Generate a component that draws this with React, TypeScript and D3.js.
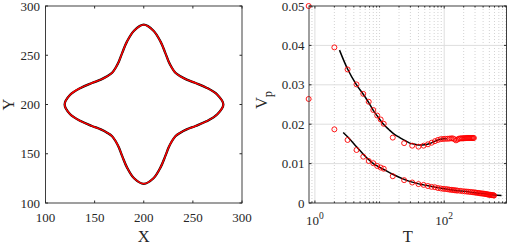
import React, {useEffect, useRef} from 'react'
import * as d3 from 'd3'

const width = 507
const height = 245

// left panel: traced boundary, counter-clockwise from the right tip
const shapeX = [
  281, 274.9, 263.8, 252.7, 243.7, 237.3, 232.2, 228.6, 225.3, 221.8, 217.1, 209.9,
  200, 190.1, 182.9, 178.2, 174.7, 171.4, 167.8, 162.7, 156.3, 147.3, 136.2, 125.1,
  119.5, 125.1, 136.2, 147.3, 156.3, 162.7, 167.8, 171.4, 174.7, 178.2, 182.9, 190.1,
  200, 209.9, 217.1, 221.8, 225.3, 228.6, 232.2, 237.3, 243.7, 252.7, 263.8, 274.9,
]
const shapeY = [
  200, 209.9, 217.1, 221.8, 225.3, 228.6, 232.2, 237.3, 243.7, 252.7, 263.8, 274.9,
  281, 274.9, 263.8, 252.7, 243.7, 237.3, 232.2, 228.6, 225.3, 221.8, 217.1, 209.9,
  200, 190.1, 182.9, 178.2, 174.7, 171.4, 167.8, 162.7, 156.3, 147.3, 136.2, 125.1,
  119.5, 125.1, 136.2, 147.3, 156.3, 162.7, 167.8, 171.4, 174.7, 178.2, 182.9, 190.1,
]
const xyTicks = [100, 150, 200, 250, 300]

// right panel: measured points (red circles)
const tUpper = [
  0.8, 2, 3.2, 4.4, 5.6, 6.8, 8, 9.2, 10.4, 11.6, 16, 24, 32, 40, 48, 56, 64, 72, 80, 88,
  96, 104, 112, 120, 128, 136, 144, 152, 160, 168, 176, 184, 192, 200, 208, 216, 224, 232,
  240, 248, 256, 264, 272, 280, 288,
]
const vUpper = [
  0.05, 0.0395, 0.0339, 0.0301, 0.0277, 0.0257, 0.0236, 0.0222, 0.0212, 0.0201, 0.0166,
  0.0152, 0.01455, 0.0143, 0.01455, 0.0149, 0.0153, 0.0157, 0.016, 0.0162, 0.01625, 0.0163,
  0.0163, 0.01635, 0.0164, 0.0164, 0.0162, 0.0159, 0.0161, 0.0163, 0.0164, 0.0164, 0.0164,
  0.01645, 0.01645, 0.01645, 0.0165, 0.0165, 0.0165, 0.0165, 0.0165, 0.0165, 0.0165, 0.0165,
  0.0165,
]
const tLower = [
  0.8, 2, 3.2, 4.4, 5.6, 6.8, 8, 9.2, 10.4, 11.6, 16, 24, 32, 40, 48, 56, 64, 72, 80, 88,
  96, 104, 112, 120, 128, 136, 144, 152, 160, 176, 192, 208, 224, 240, 256, 272, 288, 304,
  320, 336, 352, 368, 384, 400, 416, 432, 448, 464, 480, 496, 512, 528, 544, 560, 576, 592,
]
const vLower = [
  0.0264, 0.0187, 0.016, 0.01345, 0.01175, 0.01066, 0.0101, 0.0094, 0.009, 0.0087, 0.0068,
  0.0058, 0.0052, 0.0048, 0.0046, 0.0043, 0.0041, 0.004, 0.0038, 0.0037, 0.0036, 0.00355,
  0.0035, 0.0034, 0.00335, 0.0033, 0.00325, 0.0032, 0.00315, 0.0031, 0.003, 0.00295, 0.0029,
  0.00285, 0.0028, 0.00275, 0.0027, 0.00265, 0.0026, 0.00255, 0.0025, 0.00245, 0.0024,
  0.0024, 0.00235, 0.0023, 0.00225, 0.0022, 0.00215, 0.0021, 0.0021, 0.00205, 0.002, 0.002,
  0.00195, 0.0019,
]

// fitted curves (black)
const tFitUpper = [2.4, 3.2, 4.4, 5.6, 6.8, 8, 9.2, 10.4, 11.6, 14, 17, 20.6, 25, 29.3, 35, 42, 50, 60, 70, 80, 90, 100, 110]
const vFitUpper = [
  0.0388, 0.034, 0.03, 0.0276, 0.0255, 0.0235, 0.0221, 0.0209, 0.0199, 0.0186, 0.0174,
  0.0166, 0.0158, 0.0152, 0.0149, 0.0147, 0.0148, 0.0151, 0.0156, 0.016, 0.0162, 0.0163, 0.0163,
]
const tFitLower = [2.74, 3.2, 4.4, 5.6, 6.8, 8, 9.2, 10.4, 11.6, 16, 24, 32, 48, 64, 100, 150, 220, 300, 400, 500, 600, 770]
const vFitLower = [
  0.0179, 0.0168, 0.0143, 0.0124, 0.011, 0.01, 0.0094, 0.0089, 0.0085, 0.0073, 0.006,
  0.0053, 0.0046, 0.0042, 0.0036, 0.0032, 0.0029, 0.0026, 0.0024, 0.0022, 0.002, 0.0019,
]

const vTicks = [0, 0.01, 0.02, 0.03, 0.04, 0.05]
const vTickLabels = ['0', '0.01', '0.02', '0.03', '0.04', '0.05']
const tMajor = [1, 100]
const tMajorExp = ['0', '2']
const tMinor = [0.9, 2, 3, 4, 5, 6, 7, 8, 9, 10, 20, 30, 40, 50, 60, 70, 80, 90, 200, 300, 400, 500, 600, 700, 800, 900]

const font = '"Liberation Serif", "Times New Roman", serif'
const axisColor = '#2b2b2b'
const top = 6
const bottom = 203

function drawShape(svg) {
  const x0 = 45.5
  const x1 = 242
  const x = d3.scaleLinear().domain([100, 300]).range([x0, x1])
  const y = d3.scaleLinear().domain([100, 300]).range([bottom, top])
  const g = svg.append('g')

  const pts = shapeX.map((d, i) => [d, shapeY[i]])
  const line = d3
    .line()
    .x((d) => x(d[0]))
    .y((d) => y(d[1]))
    .curve(d3.curveCatmullRomClosed)

  g.append('path').attr('d', line(pts)).attr('fill', 'none').attr('stroke', '#000').attr('stroke-width', 2.3)
  g.append('path').attr('d', line(pts)).attr('fill', 'none').attr('stroke', '#f00').attr('stroke-width', 1.5)

  g.append('rect')
    .attr('x', x0)
    .attr('y', top)
    .attr('width', x1 - x0)
    .attr('height', bottom - top)
    .attr('fill', 'none')
    .attr('stroke', axisColor)
    .attr('stroke-width', 0.9)

  xyTicks.forEach((t) => {
    g.append('line').attr('x1', x(t)).attr('x2', x(t)).attr('y1', bottom).attr('y2', bottom - 2.5).attr('stroke', axisColor)
    g.append('line').attr('x1', x(t)).attr('x2', x(t)).attr('y1', top).attr('y2', top + 2.5).attr('stroke', axisColor)
    g.append('line').attr('y1', y(t)).attr('y2', y(t)).attr('x1', x0).attr('x2', x0 + 2.5).attr('stroke', axisColor)
    g.append('line').attr('y1', y(t)).attr('y2', y(t)).attr('x1', x1).attr('x2', x1 - 2.5).attr('stroke', axisColor)
    g.append('text').attr('x', x(t)).attr('y', 221.5).attr('text-anchor', 'middle').text(t)
    g.append('text').attr('x', 40).attr('y', y(t)).attr('dy', '0.35em').attr('text-anchor', 'end').text(t)
  })

  g.append('text').attr('x', (x0 + x1) / 2).attr('y', 241.5).attr('text-anchor', 'middle').attr('font-size', 16.5).text('X')
  g.append('text')
    .attr('transform', `translate(13.5,${(top + bottom) / 2}) rotate(-90)`)
    .attr('text-anchor', 'middle')
    .attr('font-size', 16.5)
    .text('Y')
}

function drawVp(svg) {
  const x0 = 309
  const x1 = 506.5
  const x = d3.scaleLog().domain([0.81, 920]).range([x0, x1])
  const y = d3.scaleLinear().domain([0, 0.05]).range([bottom, top])
  const g = svg.append('g')

  // grid
  tMinor.forEach((t) => {
    g.append('line')
      .attr('x1', x(t)).attr('x2', x(t)).attr('y1', top).attr('y2', bottom)
      .attr('stroke', '#c8c8c8').attr('stroke-width', 0.8).attr('stroke-dasharray', '1,2')
  })
  tMajor.forEach((t) => {
    g.append('line').attr('x1', x(t)).attr('x2', x(t)).attr('y1', top).attr('y2', bottom).attr('stroke', '#dedede')
  })
  vTicks.slice(1, -1).forEach((v) => {
    g.append('line').attr('x1', x0).attr('x2', x1).attr('y1', y(v)).attr('y2', y(v)).attr('stroke', '#dedede')
  })

  const line = d3
    .line()
    .x((d) => x(d[0]))
    .y((d) => y(d[1]))
    .curve(d3.curveMonotoneX)

  const fits = [
    [tFitUpper, vFitUpper],
    [tFitLower, vFitLower],
  ]
  fits.forEach(([ts, vs]) => {
    g.append('path')
      .attr('d', line(ts.map((t, i) => [t, vs[i]])))
      .attr('fill', 'none')
      .attr('stroke', '#000')
      .attr('stroke-width', 1.5)
  })

  const series = [
    [tUpper, vUpper],
    [tLower, vLower],
  ]
  series.forEach(([ts, vs]) => {
    g.append('g')
      .selectAll('circle')
      .data(ts.map((t, i) => [t, vs[i]]))
      .enter()
      .append('circle')
      .attr('cx', (d) => x(d[0]))
      .attr('cy', (d) => y(d[1]))
      .attr('r', 2.5)
      .attr('fill', 'none')
      .attr('stroke', '#f00')
      .attr('stroke-width', 0.9)
  })

  g.append('rect')
    .attr('x', x0)
    .attr('y', top)
    .attr('width', x1 - x0)
    .attr('height', bottom - top)
    .attr('fill', 'none')
    .attr('stroke', axisColor)
    .attr('stroke-width', 0.9)

  tMinor.forEach((t) => {
    g.append('line').attr('x1', x(t)).attr('x2', x(t)).attr('y1', bottom).attr('y2', bottom - 1.5).attr('stroke', axisColor)
    g.append('line').attr('x1', x(t)).attr('x2', x(t)).attr('y1', top).attr('y2', top + 1.5).attr('stroke', axisColor)
  })
  tMajor.forEach((t, i) => {
    g.append('line').attr('x1', x(t)).attr('x2', x(t)).attr('y1', bottom).attr('y2', bottom - 2.5).attr('stroke', axisColor)
    g.append('line').attr('x1', x(t)).attr('x2', x(t)).attr('y1', top).attr('y2', top + 2.5).attr('stroke', axisColor)
    const label = g.append('text').attr('x', x(t)).attr('y', 225).attr('text-anchor', 'middle')
    label.append('tspan').text('10')
    label.append('tspan').attr('dy', -6.5).attr('font-size', 9.5).text(tMajorExp[i])
  })
  vTicks.forEach((v, i) => {
    g.append('line').attr('y1', y(v)).attr('y2', y(v)).attr('x1', x0).attr('x2', x0 + 2.5).attr('stroke', axisColor)
    g.append('line').attr('y1', y(v)).attr('y2', y(v)).attr('x1', x1).attr('x2', x1 - 2.5).attr('stroke', axisColor)
    g.append('text').attr('x', 304.5).attr('y', y(v)).attr('dy', '0.35em').attr('text-anchor', 'end').text(vTickLabels[i])
  })

  g.append('text').attr('x', (x0 + x1) / 2).attr('y', 242).attr('text-anchor', 'middle').attr('font-size', 16.5).text('T')
  const vLabel = g
    .append('text')
    .attr('transform', `translate(267,100) rotate(-90)`)
    .attr('text-anchor', 'middle')
    .attr('font-size', 16.5)
  vLabel.append('tspan').text('V')
  vLabel.append('tspan').attr('dy', 4.5).attr('font-size', 12.5).text('p')
}

export default function App() {
  const ref = useRef(null)

  useEffect(() => {
    const svg = d3.select(ref.current)
    svg.selectAll('*').remove()
    svg.attr('font-family', font).attr('font-size', 13).attr('fill', '#262626')
    drawShape(svg)
    drawVp(svg)
  }, [])

  return (
    <svg
      ref={ref}
      width={width}
      height={height}
      style={{position: 'absolute', left: 0, top: 0, background: '#fff'}}
    ></svg>
  )
}
